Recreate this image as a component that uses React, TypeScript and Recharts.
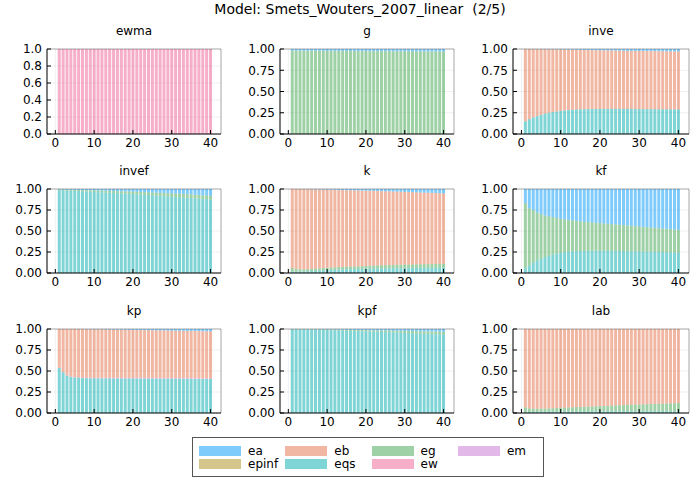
import { BarChart, Bar, XAxis, YAxis, CartesianGrid, ReferenceLine } from "recharts";

// forecast error variance decomposition, periods 1..40
const periods = [
  1, 2, 3, 4, 5, 6, 7, 8, 9, 10, 11, 12, 13, 14, 15, 16, 17, 18, 19, 20,
  21, 22, 23, 24, 25, 26, 27, 28, 29, 30, 31, 32, 33, 34, 35, 36, 37, 38, 39, 40,
];

const ewma_ew = [
  1, 1, 1, 1, 1, 1, 1, 1, 1, 1, 1, 1, 1, 1, 1, 1, 1, 1, 1, 1,
  1, 1, 1, 1, 1, 1, 1, 1, 1, 1, 1, 1, 1, 1, 1, 1, 1, 1, 1, 1,
];

const g_eg = [
  0.982, 0.981, 0.981, 0.98, 0.98, 0.98, 0.979, 0.979, 0.979, 0.978,
  0.978, 0.978, 0.977, 0.977, 0.977, 0.977, 0.976, 0.976, 0.976, 0.976,
  0.975, 0.975, 0.975, 0.975, 0.975, 0.974, 0.974, 0.974, 0.974, 0.974,
  0.973, 0.973, 0.973, 0.973, 0.973, 0.972, 0.972, 0.972, 0.972, 0.972,
];
const g_ea = [
  0.018, 0.019, 0.019, 0.02, 0.02, 0.02, 0.021, 0.021, 0.021, 0.022,
  0.022, 0.022, 0.023, 0.023, 0.023, 0.023, 0.024, 0.024, 0.024, 0.024,
  0.025, 0.025, 0.025, 0.025, 0.025, 0.026, 0.026, 0.026, 0.026, 0.026,
  0.027, 0.027, 0.027, 0.027, 0.027, 0.028, 0.028, 0.028, 0.028, 0.028,
];

const inve_eqs = [
  0.15, 0.175, 0.195, 0.21, 0.225, 0.24, 0.25, 0.258, 0.265, 0.272,
  0.278, 0.282, 0.285, 0.288, 0.29, 0.292, 0.293, 0.294, 0.295, 0.295,
  0.295, 0.295, 0.295, 0.295, 0.295, 0.294, 0.294, 0.294, 0.293, 0.293,
  0.293, 0.292, 0.292, 0.292, 0.291, 0.291, 0.291, 0.29, 0.29, 0.29,
];
const inve_eb = [
  0.849, 0.824, 0.803, 0.788, 0.772, 0.757, 0.746, 0.738, 0.73, 0.722,
  0.716, 0.711, 0.707, 0.703, 0.7, 0.697, 0.695, 0.693, 0.691, 0.69,
  0.689, 0.689, 0.688, 0.687, 0.686, 0.686, 0.685, 0.684, 0.685, 0.684,
  0.684, 0.684, 0.684, 0.683, 0.684, 0.683, 0.683, 0.683, 0.683, 0.682,
];
const inve_ea = [
  0.001, 0.001, 0.002, 0.002, 0.003, 0.003, 0.004, 0.004, 0.005, 0.006,
  0.006, 0.007, 0.008, 0.009, 0.01, 0.011, 0.012, 0.013, 0.014, 0.015,
  0.016, 0.016, 0.017, 0.018, 0.019, 0.02, 0.021, 0.022, 0.022, 0.023,
  0.023, 0.024, 0.024, 0.025, 0.025, 0.026, 0.026, 0.027, 0.027, 0.028,
];

const invef_eqs = [
  0.985, 0.983, 0.981, 0.979, 0.977, 0.975, 0.973, 0.97, 0.968, 0.965,
  0.963, 0.96, 0.958, 0.955, 0.953, 0.95, 0.948, 0.945, 0.943, 0.94,
  0.937, 0.934, 0.931, 0.928, 0.925, 0.922, 0.919, 0.916, 0.913, 0.91,
  0.907, 0.903, 0.9, 0.896, 0.893, 0.889, 0.886, 0.882, 0.879, 0.875,
];
const invef_eg = [
  0.008, 0.009, 0.01, 0.011, 0.012, 0.013, 0.014, 0.015, 0.017, 0.018,
  0.019, 0.02, 0.021, 0.022, 0.023, 0.024, 0.025, 0.026, 0.027, 0.028,
  0.029, 0.03, 0.031, 0.032, 0.033, 0.034, 0.035, 0.036, 0.037, 0.038,
  0.039, 0.039, 0.04, 0.041, 0.042, 0.042, 0.043, 0.044, 0.044, 0.045,
];
const invef_ea = [
  0.007, 0.008, 0.009, 0.01, 0.011, 0.012, 0.013, 0.015, 0.015, 0.017,
  0.018, 0.02, 0.021, 0.023, 0.024, 0.026, 0.027, 0.029, 0.03, 0.032,
  0.034, 0.036, 0.038, 0.04, 0.042, 0.044, 0.046, 0.048, 0.05, 0.052,
  0.054, 0.058, 0.06, 0.063, 0.065, 0.069, 0.071, 0.074, 0.077, 0.08,
];

const k_eqs = [
  0.015, 0.015, 0.016, 0.018, 0.02, 0.023, 0.026, 0.029, 0.032, 0.035,
  0.037, 0.039, 0.041, 0.043, 0.044, 0.045, 0.046, 0.047, 0.048, 0.05,
  0.051, 0.052, 0.053, 0.054, 0.054, 0.055, 0.056, 0.056, 0.057, 0.058,
  0.058, 0.059, 0.059, 0.06, 0.06, 0.06, 0.061, 0.061, 0.062, 0.062,
];
const k_eg = [
  0.045, 0.035, 0.029, 0.026, 0.025, 0.025, 0.025, 0.026, 0.027, 0.028,
  0.028, 0.029, 0.03, 0.03, 0.031, 0.032, 0.032, 0.033, 0.034, 0.035,
  0.036, 0.036, 0.037, 0.038, 0.039, 0.039, 0.04, 0.041, 0.042, 0.043,
  0.043, 0.044, 0.044, 0.045, 0.045, 0.046, 0.046, 0.047, 0.047, 0.048,
];
const k_eb = [
  0.94, 0.949, 0.954, 0.954, 0.953, 0.949, 0.945, 0.94, 0.935, 0.929,
  0.926, 0.922, 0.918, 0.914, 0.911, 0.908, 0.906, 0.903, 0.899, 0.895,
  0.892, 0.889, 0.886, 0.882, 0.88, 0.878, 0.874, 0.872, 0.868, 0.864,
  0.863, 0.859, 0.858, 0.854, 0.852, 0.85, 0.847, 0.844, 0.841, 0.838,
];
const k_ea = [
  0.0, 0.001, 0.001, 0.002, 0.002, 0.003, 0.004, 0.005, 0.006, 0.008,
  0.009, 0.01, 0.011, 0.013, 0.014, 0.015, 0.016, 0.017, 0.019, 0.02,
  0.021, 0.023, 0.024, 0.026, 0.027, 0.028, 0.03, 0.031, 0.033, 0.035,
  0.036, 0.038, 0.039, 0.041, 0.043, 0.044, 0.046, 0.048, 0.05, 0.052,
];

const kf_eqs = [
  0.056, 0.09, 0.125, 0.15, 0.17, 0.19, 0.205, 0.22, 0.232, 0.242,
  0.25, 0.255, 0.258, 0.26, 0.262, 0.263, 0.264, 0.265, 0.265, 0.265,
  0.265, 0.264, 0.264, 0.263, 0.262, 0.261, 0.26, 0.259, 0.258, 0.257,
  0.256, 0.254, 0.253, 0.252, 0.25, 0.249, 0.247, 0.245, 0.243, 0.242,
];
const kf_eg = [
  0.776, 0.68, 0.625, 0.57, 0.53, 0.495, 0.47, 0.445, 0.423, 0.403,
  0.388, 0.377, 0.368, 0.36, 0.353, 0.347, 0.342, 0.337, 0.333, 0.329,
  0.325, 0.322, 0.318, 0.315, 0.312, 0.309, 0.306, 0.303, 0.3, 0.297,
  0.294, 0.292, 0.289, 0.286, 0.284, 0.281, 0.279, 0.277, 0.275, 0.272,
];
const kf_ea = [
  0.168, 0.23, 0.25, 0.28, 0.3, 0.315, 0.325, 0.335, 0.345, 0.355,
  0.362, 0.368, 0.374, 0.38, 0.385, 0.39, 0.394, 0.398, 0.402, 0.406,
  0.41, 0.414, 0.418, 0.422, 0.426, 0.43, 0.434, 0.438, 0.442, 0.446,
  0.45, 0.454, 0.458, 0.462, 0.466, 0.47, 0.474, 0.478, 0.482, 0.486,
];

const kp_eqs = [
  0.535, 0.485, 0.445, 0.43, 0.422, 0.418, 0.416, 0.414, 0.413, 0.413,
  0.412, 0.412, 0.412, 0.412, 0.411, 0.411, 0.411, 0.411, 0.41, 0.41,
  0.41, 0.41, 0.409, 0.409, 0.409, 0.409, 0.408, 0.408, 0.408, 0.408,
  0.407, 0.407, 0.407, 0.406, 0.406, 0.406, 0.405, 0.405, 0.405, 0.404,
];
const kp_em = [
  0.004, 0.004, 0.005, 0.005, 0.005, 0.006, 0.006, 0.006, 0.006, 0.006,
  0.007, 0.007, 0.007, 0.007, 0.007, 0.007, 0.007, 0.007, 0.007, 0.007,
  0.008, 0.008, 0.008, 0.008, 0.008, 0.008, 0.008, 0.008, 0.008, 0.008,
  0.008, 0.008, 0.008, 0.008, 0.008, 0.008, 0.008, 0.008, 0.008, 0.008,
];
const kp_eb = [
  0.461, 0.511, 0.549, 0.564, 0.572, 0.574, 0.576, 0.577, 0.578, 0.577,
  0.577, 0.576, 0.575, 0.575, 0.575, 0.574, 0.574, 0.573, 0.573, 0.572,
  0.57, 0.57, 0.57, 0.569, 0.568, 0.567, 0.568, 0.567, 0.566, 0.565,
  0.565, 0.564, 0.564, 0.564, 0.563, 0.562, 0.562, 0.561, 0.56, 0.56,
];
const kp_ea = [
  0.0, 0.0, 0.001, 0.001, 0.001, 0.002, 0.002, 0.003, 0.003, 0.004,
  0.004, 0.005, 0.006, 0.006, 0.007, 0.008, 0.008, 0.009, 0.01, 0.011,
  0.012, 0.012, 0.013, 0.014, 0.015, 0.016, 0.016, 0.017, 0.018, 0.019,
  0.02, 0.021, 0.021, 0.022, 0.023, 0.024, 0.025, 0.026, 0.027, 0.028,
];

const kpf_eqs = [
  0.995, 0.994, 0.993, 0.992, 0.991, 0.99, 0.989, 0.988, 0.987, 0.986,
  0.985, 0.983, 0.982, 0.981, 0.979, 0.978, 0.976, 0.975, 0.973, 0.972,
  0.97, 0.968, 0.967, 0.965, 0.963, 0.961, 0.959, 0.957, 0.955, 0.953,
  0.951, 0.949, 0.947, 0.945, 0.943, 0.941, 0.939, 0.937, 0.936, 0.935,
];
const kpf_eg = [
  0.003, 0.003, 0.004, 0.004, 0.005, 0.005, 0.006, 0.006, 0.007, 0.007,
  0.008, 0.009, 0.009, 0.01, 0.011, 0.011, 0.012, 0.013, 0.014, 0.014,
  0.015, 0.016, 0.017, 0.018, 0.019, 0.02, 0.021, 0.022, 0.023, 0.024,
  0.025, 0.026, 0.027, 0.028, 0.029, 0.03, 0.031, 0.032, 0.033, 0.034,
];
const kpf_ea = [
  0.002, 0.003, 0.003, 0.004, 0.004, 0.005, 0.005, 0.006, 0.006, 0.007,
  0.007, 0.008, 0.009, 0.009, 0.01, 0.011, 0.012, 0.012, 0.013, 0.014,
  0.015, 0.016, 0.016, 0.017, 0.018, 0.019, 0.02, 0.021, 0.022, 0.023,
  0.024, 0.025, 0.026, 0.027, 0.028, 0.029, 0.03, 0.031, 0.031, 0.031,
];

const lab_eqs = [
  0.012, 0.012, 0.013, 0.013, 0.014, 0.014, 0.015, 0.015, 0.015, 0.016,
  0.016, 0.016, 0.016, 0.017, 0.017, 0.017, 0.017, 0.017, 0.017, 0.018,
  0.018, 0.018, 0.018, 0.018, 0.018, 0.018, 0.018, 0.018, 0.018, 0.018,
  0.018, 0.018, 0.018, 0.018, 0.018, 0.018, 0.018, 0.018, 0.018, 0.018,
];
const lab_eg = [
  0.056, 0.043, 0.037, 0.037, 0.037, 0.039, 0.04, 0.042, 0.045, 0.046,
  0.048, 0.05, 0.052, 0.053, 0.055, 0.057, 0.059, 0.061, 0.063, 0.064,
  0.066, 0.068, 0.07, 0.072, 0.074, 0.076, 0.078, 0.08, 0.082, 0.083,
  0.085, 0.087, 0.088, 0.09, 0.092, 0.093, 0.095, 0.096, 0.098, 0.1,
];
const lab_eb = [
  0.932, 0.945, 0.95, 0.95, 0.949, 0.947, 0.945, 0.943, 0.94, 0.938,
  0.936, 0.934, 0.932, 0.93, 0.928, 0.926, 0.924, 0.922, 0.92, 0.918,
  0.916, 0.914, 0.912, 0.91, 0.908, 0.906, 0.904, 0.902, 0.9, 0.899,
  0.897, 0.895, 0.894, 0.892, 0.89, 0.889, 0.887, 0.886, 0.884, 0.882,
];

const shocks = ["ea", "eb", "eg", "em", "epinf", "eqs", "ew"];
const shockColors: Record<string, string> = {
  ea: "#009AFA",
  eb: "#E36F47",
  eg: "#3EA44E",
  em: "#C371D2",
  epinf: "#AC8E18",
  eqs: "#00A9AD",
  ew: "#ED5E93",
};

// series listed bottom -> top of each stack
const panels = [
  { name: "ewma", series: { ew: ewma_ew } },
  { name: "g", series: { eg: g_eg, ea: g_ea } },
  { name: "inve", series: { eqs: inve_eqs, eb: inve_eb, ea: inve_ea } },
  { name: "invef", series: { eqs: invef_eqs, eg: invef_eg, ea: invef_ea } },
  { name: "k", series: { eqs: k_eqs, eg: k_eg, eb: k_eb, ea: k_ea } },
  { name: "kf", series: { eqs: kf_eqs, eg: kf_eg, ea: kf_ea } },
  { name: "kp", series: { eqs: kp_eqs, em: kp_em, eb: kp_eb, ea: kp_ea } },
  { name: "kpf", series: { eqs: kpf_eqs, eg: kpf_eg, ea: kpf_ea } },
  { name: "lab", series: { eqs: lab_eqs, eg: lab_eg, eb: lab_eb } },
];

const xTicks = [0, 10, 20, 30, 40];
const yTicks = [0, 0.25, 0.5, 0.75, 1];
const yTicksEwma = [0, 0.2, 0.4, 0.6, 0.8, 1];
const X_MIN = -2.15;
const X_MAX = 42.7;

const cols = [
  { left: 47, width: 174 },
  { left: 280, width: 174 },
  { left: 513, width: 176 },
];
const rows = [
  { top: 49, height: 85 },
  { top: 189, height: 84 },
  { top: 329, height: 84 },
];

const FONT = "'DejaVu Sans', sans-serif";
const LABEL_W = 45;
const TOP_PAD = 10;

function Panel({ idx }: { idx: number }) {
  const p = panels[idx];
  const col = cols[idx % 3];
  const row = rows[Math.floor(idx / 3)];
  const keys = Object.keys(p.series);
  const data = periods.map((t, i) => {
    const r: Record<string, number> = { t };
    keys.forEach((k) => (r[k] = (p.series as any)[k][i]));
    return r;
  });
  const isEwma = p.name === "ewma";
  const ticks = isEwma ? yTicksEwma : yTicks;

  return (
    <>
      <div
        style={{
          position: "absolute",
          left: col.left,
          top: row.top - 25,
          width: col.width,
          textAlign: "center",
          fontSize: 12,
          lineHeight: "14px",
          color: "#000",
        }}
      >
        {p.name}
      </div>
      <div style={{ position: "absolute", left: col.left - LABEL_W, top: row.top - TOP_PAD }}>
        <BarChart
          width={col.width + LABEL_W + 6}
          height={row.height + TOP_PAD + 22}
          data={data}
          margin={{ top: TOP_PAD, right: 6, bottom: 0, left: 5 }}
          barCategoryGap="12%"
        >
          <CartesianGrid stroke="#000" strokeOpacity={0.1} strokeWidth={0.6} />
          <XAxis
            dataKey="t"
            type="number"
            domain={[X_MIN, X_MAX]}
            allowDataOverflow
            ticks={xTicks}
            interval={0}
            height={22}
            tickSize={-4}
            tickMargin={8}
            tick={{ fill: "#000", fontSize: 12, fontFamily: FONT }}
            tickLine={{ stroke: "#000" }}
            axisLine={{ stroke: "#000" }}
          />
          <YAxis
            type="number"
            domain={[0, 1]}
            allowDataOverflow
            ticks={ticks}
            interval={0}
            width={40}
            tickSize={-4}
            tickMargin={9}
            tickFormatter={(v: number) => v.toFixed(isEwma ? 1 : 2)}
            tick={{ fill: "#000", fontSize: 12, fontFamily: FONT }}
            tickLine={{ stroke: "#000" }}
            axisLine={{ stroke: "#000" }}
          />
          {keys.map((k) => (
            <Bar
              key={k}
              dataKey={k}
              stackId="s"
              fill={shockColors[k]}
              fillOpacity={0.5}
              isAnimationActive={false}
            />
          ))}
          <ReferenceLine y={1} stroke="#000" strokeOpacity={0.3} />
          <ReferenceLine x={X_MAX} stroke="#000" strokeOpacity={0.3} />
        </BarChart>
      </div>
    </>
  );
}

export default function App() {
  return (
    <div
      style={{
        position: "absolute",
        left: 0,
        top: 0,
        width: 700,
        height: 500,
        background: "#fff",
        fontFamily: FONT,
      }}
    >
      <div
        style={{
          position: "absolute",
          left: 0,
          top: 0,
          width: 720,
          textAlign: "center",
          fontSize: 14,
          lineHeight: "18px",
        }}
      >
        Model: Smets_Wouters_2007_linear{"\u00a0\u00a0"}(2/5)
      </div>
      {panels.map((_, i) => (
        <Panel key={i} idx={i} />
      ))}
      <div
        style={{
          position: "absolute",
          left: 192,
          top: 437,
          width: 350,
          height: 38,
          border: "1px solid #555",
          background: "#fff",
        }}
      >
        {shocks.map((s, i) => (
          <div
            key={s}
            style={{
              position: "absolute",
              left: 6 + (i % 4) * 86.3,
              top: 6 + Math.floor(i / 4) * 13,
              height: 13,
              display: "flex",
              alignItems: "center",
              fontSize: 12,
            }}
          >
            <span
              style={{
                display: "inline-block",
                width: 42,
                height: 10,
                background: shockColors[s],
                opacity: 0.5,
                marginRight: 7,
              }}
            />
            <span>{s}</span>
          </div>
        ))}
      </div>
    </div>
  );
}
